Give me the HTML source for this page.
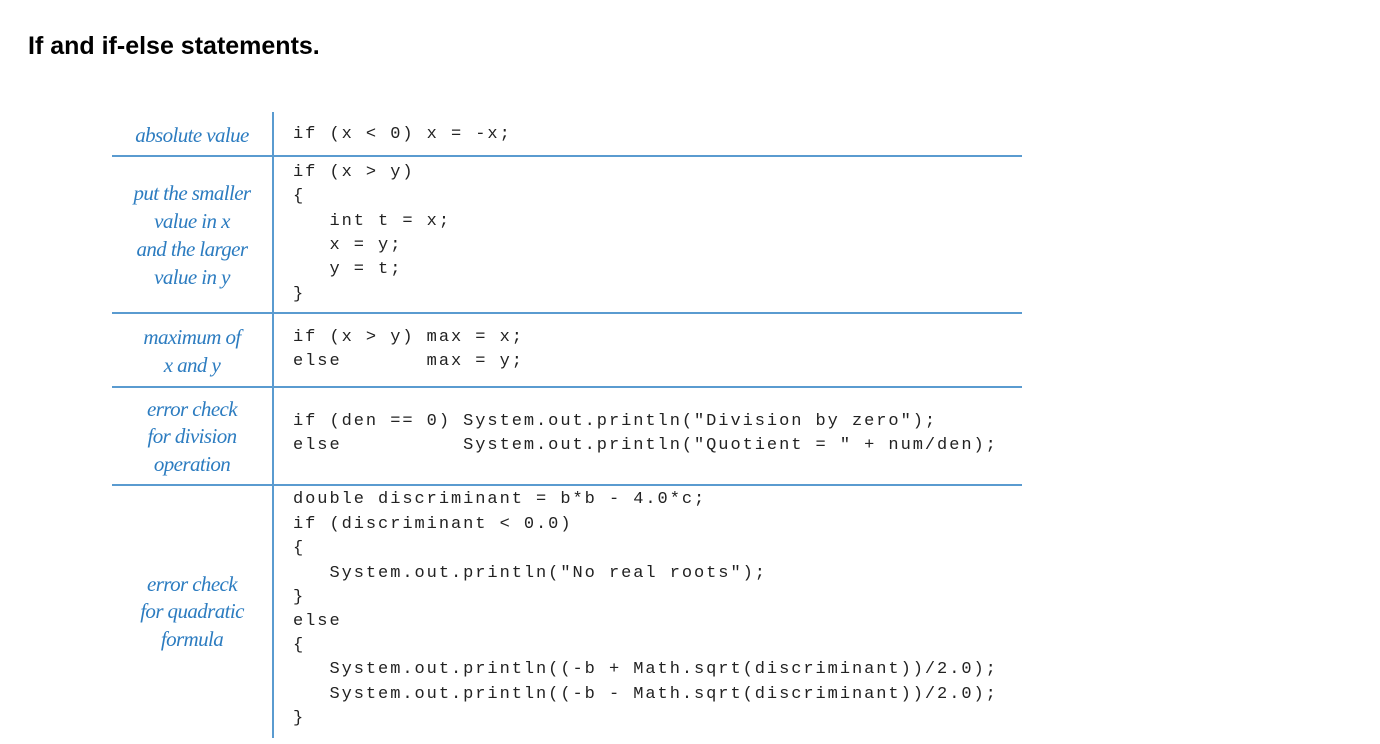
<!DOCTYPE html>
<html><head><meta charset="utf-8"><style>
body{margin:0;width:1380px;height:744px;background:#fff;position:relative;overflow:hidden}
.t{position:absolute;left:28px;top:32px;font:bold 25px "Liberation Sans",sans-serif;color:#000}
.h{position:absolute;left:112px;width:910px;height:2px;background:#5a9bd0}
.v{position:absolute;left:272px;top:112px;width:2px;height:626px;background:#5a9bd0}
.c{position:absolute;left:293px;height:24px;line-height:24px;font:17px "Liberation Mono",monospace;letter-spacing:1.95px;white-space:pre;color:#222}
.l{position:absolute;left:112px;width:160px;text-align:center;height:28px;line-height:28px;font:italic 21px "Liberation Serif",serif;color:#2c7cc0;letter-spacing:-0.6px;white-space:nowrap}
</style></head><body>
<div class="t">If and if-else statements.</div>
<div class="v"></div>
<div class="h" style="top:155px"></div>
<div class="h" style="top:312px"></div>
<div class="h" style="top:386px"></div>
<div class="h" style="top:484px"></div>

<div class="l" style="top:123px">absolute value</div>
<div class="l" style="top:181px">put the smaller</div>
<div class="l" style="top:209px">value in x</div>
<div class="l" style="top:237px">and the larger</div>
<div class="l" style="top:265px">value in y</div>
<div class="l" style="top:325px">maximum of</div>
<div class="l" style="top:353px">x and y</div>
<div class="l" style="top:397px">error check</div>
<div class="l" style="top:424px">for division</div>
<div class="l" style="top:452px">operation</div>
<div class="l" style="top:572px">error check</div>
<div class="l" style="top:599px">for quadratic</div>
<div class="l" style="top:627px">formula</div>

<div class="c" style="top:125px">if (x &lt; 0) x = -x;</div>
<div class="c" style="top:163px">if (x &gt; y)</div>
<div class="c" style="top:187px">{</div>
<div class="c" style="top:212px">   int t = x;</div>
<div class="c" style="top:236px">   x = y;</div>
<div class="c" style="top:260px">   y = t;</div>
<div class="c" style="top:285px">}</div>
<div class="c" style="top:328px">if (x &gt; y) max = x;</div>
<div class="c" style="top:352px">else       max = y;</div>
<div class="c" style="top:412px">if (den == 0) System.out.println("Division by zero");</div>
<div class="c" style="top:436px">else          System.out.println("Quotient = " + num/den);</div>
<div class="c" style="top:490px">double discriminant = b*b - 4.0*c;</div>
<div class="c" style="top:515px">if (discriminant &lt; 0.0)</div>
<div class="c" style="top:539px">{</div>
<div class="c" style="top:564px">   System.out.println("No real roots");</div>
<div class="c" style="top:588px">}</div>
<div class="c" style="top:612px">else</div>
<div class="c" style="top:636px">{</div>
<div class="c" style="top:660px">   System.out.println((-b + Math.sqrt(discriminant))/2.0);</div>
<div class="c" style="top:685px">   System.out.println((-b - Math.sqrt(discriminant))/2.0);</div>
<div class="c" style="top:709px">}</div>
</body></html>
